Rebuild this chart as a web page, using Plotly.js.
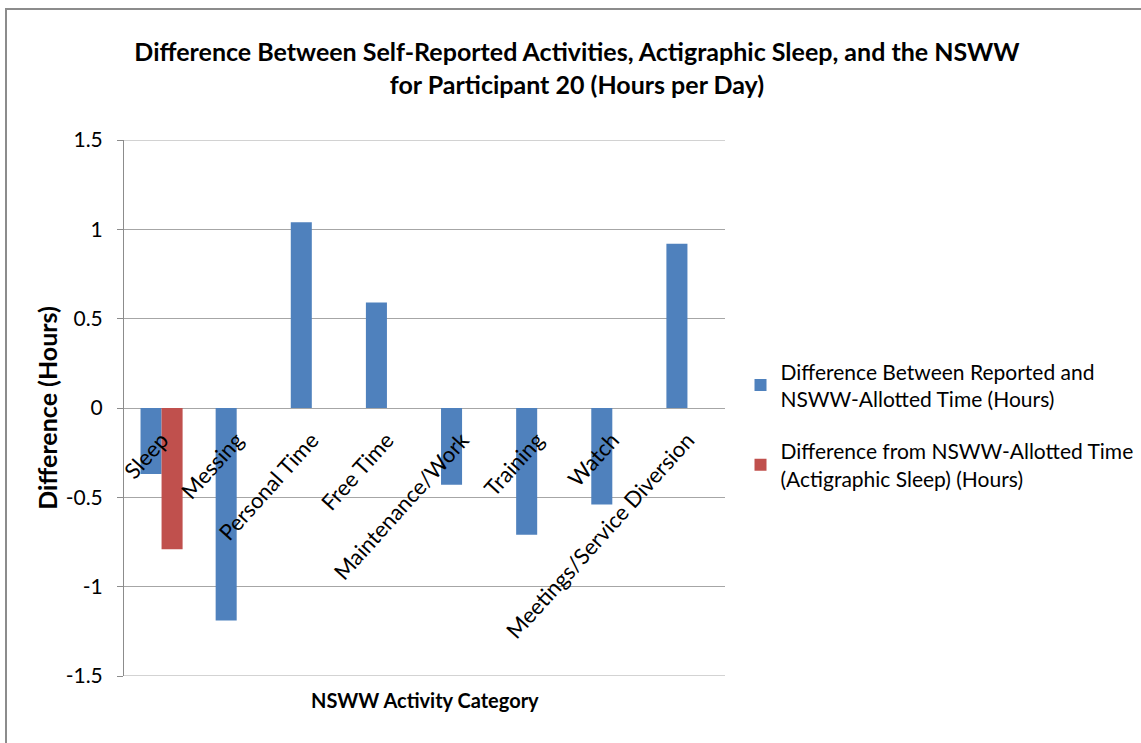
<!DOCTYPE html>
<html>
<head>
<meta charset="utf-8">
<script src="https://cdn.plot.ly/plotly-3.0.1.min.js"></script>
<style>
  html, body { margin: 0; padding: 0; background: #ffffff; }
  #wrap { position: relative; width: 1141px; height: 743px; overflow: hidden; }
  #chart { position: absolute; left: 0; top: 0; width: 1141px; height: 743px; }
  #frame { position: absolute; left: 5px; top: 8px; width: 1200px; height: 800px;
           border-left: 2px solid #8c8c8c; border-top: 2px solid #8c8c8c; pointer-events: none; }
</style>
</head>
<body>
<div id="wrap">
  <div id="chart"></div>
  <div id="frame"></div>
</div>
<script>
const categories = ["Sleep", "Messing", "Personal Time", "Free Time", "Maintenance/Work",
                    "Training", "Watch", "Meetings/Service Diversion"];
const reportedDiff = [-0.37, -1.19, 1.04, 0.59, -0.43, -0.71, -0.54, 0.92];
const actigraphicDiff = [-0.79, null, null, null, null, null, null, null];
const seriesNames = ["Difference Between Reported and<br>NSWW-Allotted Time (Hours)",
                     "Difference from NSWW-Allotted Time<br>(Actigraphic Sleep) (Hours)"];
const yTickVals = [-1.5, -1, -0.5, 0, 0.5, 1, 1.5];
const yTickText = ["-1.5", "-1", "-0.5", "0", "0.5", "1", "1.5"];

const FONT = "Lato, Carlito, 'Liberation Sans', sans-serif";

const traces = [
  { type: "bar", x: categories, y: reportedDiff, name: seriesNames[0],
    marker: { color: "#4F81BD" }, hoverinfo: "x+y", legend: "legend" },
  { type: "bar", x: categories, y: actigraphicDiff, name: seriesNames[1],
    marker: { color: "#C0504D" }, hoverinfo: "x+y", legend: "legend2" }
];

const yMin = yTickVals[0], yMax = yTickVals[yTickVals.length - 1];

const legendStyle = {
  xref: "container", x: 0.649, xanchor: "left", yanchor: "top",
  font: { family: FONT, size: 21, color: "#000000" },
  bgcolor: "rgba(0,0,0,0)", borderwidth: 0, itemwidth: 30
};

const layout = {
  width: 1141, height: 743,
  paper_bgcolor: "#ffffff", plot_bgcolor: "#ffffff",
  margin: { l: 124, r: 416, t: 140, b: 67, pad: 0, autoexpand: false },
  font: { family: FONT, size: 20, color: "#000000" },
  barmode: "group",
  bargap: 0.44, bargroupgap: 0,
  title: {
    text: "<b>Difference Between Self-Reported Activities, Actigraphic Sleep, and the NSWW<br>for Participant 20 (Hours per Day)</b>",
    font: { family: FONT, size: 25, color: "#000000" },
    x: 0.5057, xanchor: "center", xref: "container",
    y: 1 - 61 / 743, yref: "container", yanchor: "middle"
  },
  xaxis: {
    type: "category",
    anchor: "free", position: 0.5,
    showline: false, showgrid: false, zeroline: false,
    ticks: "", tickangle: -48, ticklabelstandoff: 14,
    tickfont: { family: FONT, size: 22, color: "#000000" },
    automargin: false
  },
  yaxis: {
    range: [yMin, yMax],
    tickvals: yTickVals, ticktext: yTickText,
    showline: true, linecolor: "#8c8c8c", linewidth: 1,
    ticks: "outside", ticklen: 6, tickcolor: "#8c8c8c", ticklabelstandoff: 10,
    showgrid: true, gridcolor: "#a6a6a6", gridwidth: 1,
    zeroline: true, zerolinecolor: "#a6a6a6", zerolinewidth: 1,
    tickfont: { family: FONT, size: 21, color: "#000000" },
    title: { text: "<b>Difference (Hours)</b>", font: { family: FONT, size: 25, color: "#000000" }, standoff: 0 },
    automargin: false
  },
  shapes: [yMin, yMax].map(v => ({
    type: "line", xref: "paper", yref: "y", x0: 0, x1: 1, y0: v, y1: v,
    line: { color: "#a6a6a6", width: 1 }, layer: "below"
  })),
  legend: Object.assign({}, legendStyle, { y: 0.606 }),
  legend2: Object.assign({}, legendStyle, { y: 0.457 }),
  annotations: [
    { text: "<b>NSWW Activity Category</b>", xref: "paper", yref: "paper",
      x: 0.5, y: -24 / 536, xanchor: "center", yanchor: "middle",
      showarrow: false, font: { family: FONT, size: 20, color: "#000000" } }
  ],
  showlegend: true
};

Plotly.newPlot("chart", traces, layout, { displayModeBar: false, staticPlot: true });
</script>
</body>
</html>
